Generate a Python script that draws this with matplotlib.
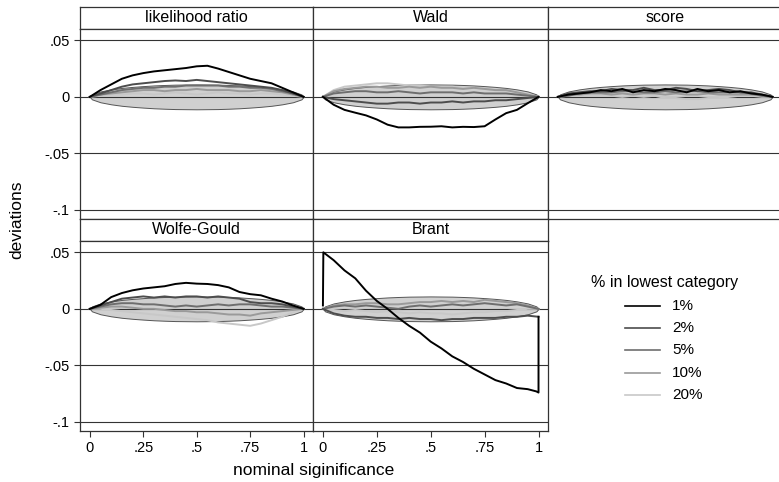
import matplotlib
matplotlib.use("Agg")
import matplotlib.pyplot as plt
from matplotlib.lines import Line2D

plt.rcParams["font.family"] = ["Liberation Sans", "DejaVu Sans"]

# nominal significance grid used for the simulated deviation curves
P = [0, .05, .1, .15, .2, .25, .3, .35, .4, .45, .5,
     .55, .6, .65, .7, .75, .8, .85, .9, .95, 1]

# half width of the grey band around zero
BAND_P = [0, .01, .05, .1, .15, .2, .25, .3, .35, .4, .45, .5,
          .55, .6, .65, .7, .75, .8, .85, .9, .95, .99, 1]
BAND_HW = [0, .0022, .0048, .0066, .0079, .0088, .0095, .0101, .0105, .0108, .0109, .011,
           .0109, .0108, .0105, .0101, .0095, .0088, .0079, .0066, .0048, .0022, 0]

LEVELS = ["1%", "2%", "5%", "10%", "20%"]
COLORS = ["#000000", "#4d4d4d", "#6e6e6e", "#9a9a9a", "#c8c8c8"]

LR = [
    [0, .006, .011, .016, .019, .021, .0225, .0235, .0245, .0255, .027, .0275, .025, .022, .019, .016, .014, .012, .008, .004, 0],
    [0, .003, .006, .009, .011, .012, .013, .014, .0145, .014, .015, .014, .013, .012, .011, .010, .009, .008, .006, .003, 0],
    [0, .002, .004, .006, .007, .008, .008, .009, .009, .010, .010, .010, .010, .009, .009, .008, .008, .007, .005, .003, 0],
    [0, .002, .003, .004, .005, .006, .006, .005, .006, .006, .007, .006, .006, .006, .005, .005, .006, .005, .004, .002, 0],
    [0, .001, .002, .002, .003, .003, .002, .003, .004, .003, .002, .003, .004, .003, .003, .002, .003, .003, .002, .001, 0],
]
WALD = [
    [0, -.007, -.0115, -.014, -.0164, -.020, -.0246, -.027, -.027, -.0265, -.0264, -.026, -.027, -.0265, -.0267, -.026, -.020, -.0144, -.0115, -.0056, 0],
    [0, -.002, -.003, -.004, -.005, -.006, -.006, -.005, -.005, -.006, -.005, -.005, -.004, -.005, -.004, -.004, -.003, -.003, -.002, -.001, 0],
    [0, .003, .004, .005, .005, .004, .004, .005, .004, .003, .004, .004, .004, .003, .004, .003, .003, .003, .002, .001, 0],
    [0, .005, .007, .008, .009, .009, .008, .008, .009, .008, .009, .008, .008, .007, .008, .007, .006, .006, .004, .002, 0],
    [0, .006, .009, .010, .011, .012, .012, .011, .010, .010, .009, .009, .009, .008, .008, .007, .006, .005, .004, .002, 0],
]
SCORE = [
    [0, .002, .003, .004, .006, .005, .007, .004, .006, .005, .007, .006, .004, .007, .005, .006, .004, .005, .003, .002, 0],
    [0, .003, .004, .005, .005, .007, .006, .006, .008, .006, .006, .008, .007, .005, .006, .007, .006, .004, .004, .002, 0],
    [0, .001, .003, .004, .004, .004, .005, .005, .004, .004, .005, .004, .005, .005, .004, .004, .004, .004, .003, .001, 0],
    [0, .002, .002, .003, .003, .002, .003, .002, .003, .003, .002, .003, .002, .002, .003, .002, .002, .002, .002, .001, 0],
    [0, .001, .001, .001, .001, .001, 0, .001, 0, .001, -.001, -.001, -.002, -.002, -.001, -.001, 0, .001, .001, 0, 0],
]
WOLFE = [
    [0, .0036, .0104, .014, .0164, .018, .019, .020, .022, .023, .0223, .022, .021, .019, .0149, .013, .012, .009, .0065, .003, 0],
    [0, .003, .006, .009, .010, .011, .010, .011, .010, .011, .011, .010, .011, .010, .009, .006, .005, .005, .004, .002, 0],
    [0, .002, .004, .005, .005, .004, .004, .003, .002, .003, .002, .003, .004, .003, .004, .004, .003, .002, .002, .001, 0],
    [0, .001, .002, .002, .001, 0, 0, -.001, -.002, -.002, -.003, -.003, -.004, -.005, -.005, -.006, -.004, -.003, -.002, -.001, 0],
    [0, 0, -.001, -.002, -.003, -.004, -.005, -.006, -.007, -.008, -.009, -.010, -.012, -.013, -.014, -.015, -.013, -.010, -.007, -.003, 0],
]
# Brant 1% has its own grid: it jumps at both ends
BRANT_1_P = [0, .002, .05, .1, .15, .2, .25, .3, .35, .4, .45, .5, .55, .6, .65, .7, .75, .8, .85, .9, .95, .99, 1, 1]
BRANT_1 = [.003, .05, .043, .034, .027, .016, .007, 0, -.008, -.015, -.021, -.029, -.035, -.042, -.047, -.053, -.058, -.063, -.066, -.070, -.071, -.073, -.074, -.007]
BRANT = [
    [.003],  # placeholder, replaced by BRANT_1 below
    [0, -.004, -.006, -.007, -.007, -.008, -.008, -.009, -.008, -.009, -.009, -.010, -.009, -.009, -.008, -.008, -.008, -.007, -.007, -.006, -.007],
    [0, .002, .003, .002, .003, .002, .001, 0, .002, .003, .002, .003, .004, .003, .004, .005, .004, .003, .004, .002, 0],
    [0, .003, .004, .004, .005, .005, .004, .004, .005, .006, .006, .007, .006, .007, .006, .008, .007, .006, .005, .003, 0],
    [0, -.001, -.002, -.001, -.002, -.003, -.002, -.003, -.004, -.003, -.004, -.004, -.005, -.004, -.003, -.003, -.002, -.002, -.001, 0, 0],
]

PANELS = [
    ("likelihood ratio", LR, 0, 0),
    ("Wald", WALD, 0, 1),
    ("score", SCORE, 0, 2),
    ("Wolfe-Gould", WOLFE, 1, 0),
    ("Brant", BRANT, 1, 1),
]

Y_TICKS = [.05, 0, -.05, -.1]
Y_LABELS = [".05", "0", "-.05", "-.1"]
X_TICKS = [0, .25, .5, .75, 1]
X_LABELS = ["0", ".25", ".5", ".75", "1"]

W, H = 779, 482
fig = plt.figure(figsize=(W / 100, H / 100), dpi=100)
fig.patch.set_facecolor("white")


def box(x0, y0, x1, y1):
    return [x0 / W, 1 - y1 / H, (x1 - x0) / W, (y1 - y0) / H]


COLS = [(80, 313), (313, 548), (548, 782)]
STRIPS = [(7, 29), (219, 241)]
PLOTS = [(29, 219), (241, 431)]
FRAME = "#333333"

for title, series, r, c in PANELS:
    x0, x1 = COLS[c]
    s0, s1 = STRIPS[r]
    p0, p1 = PLOTS[r]

    sax = fig.add_axes(box(x0, s0, x1, s1))
    sax.set_xticks([])
    sax.set_yticks([])
    for sp in sax.spines.values():
        sp.set_color(FRAME)
        sp.set_linewidth(0.9)
    sax.text(0.5, 0.5, title, ha="center", va="center", fontsize=11.5, transform=sax.transAxes)

    ax = fig.add_axes(box(x0, p0, x1, p1))
    ax.set_xlim(-0.046, 1.044)
    ax.set_ylim(-0.108, 0.06)
    for sp in ax.spines.values():
        sp.set_color(FRAME)
        sp.set_linewidth(0.9)

    ax.fill_between(BAND_P, [-h for h in BAND_HW], BAND_HW, facecolor="#d0d0d0",
                    edgecolor="#555555", linewidth=0.7, zorder=1)
    for yt in Y_TICKS:
        ax.axhline(yt, color=FRAME, linewidth=0.8, zorder=2)

    for i in range(len(LEVELS) - 1, -1, -1):
        if title == "Brant" and i == 0:
            xs, ys = BRANT_1_P, BRANT_1
        else:
            xs, ys = P, series[i]
        ax.plot(xs, ys, color=COLORS[i], linewidth=1.4, zorder=3 + (len(LEVELS) - i))

    ax.set_yticks(Y_TICKS)
    ax.set_xticks(X_TICKS)
    ax.tick_params(direction="out", length=4, width=0.8, color=FRAME, labelsize=10.5)
    if c == 0:
        ax.set_yticklabels(Y_LABELS)
    else:
        ax.tick_params(axis="y", left=False, labelleft=False)
    if r == 1:
        ax.set_xticklabels(X_LABELS)
    else:
        ax.tick_params(axis="x", bottom=False, labelbottom=False)

fig.text(17 / W, 1 - 220 / H, "deviations", rotation=90, ha="center", va="center", fontsize=12.5)
fig.text(314 / W, 1 - 470 / H, "nominal siginificance", ha="center", va="center", fontsize=12.5)

# legend drawn in the empty sixth cell
fig.text(665 / W, 1 - 283 / H, "% in lowest category", ha="center", va="center", fontsize=11.5)
for i, (lab, col) in enumerate(zip(LEVELS, COLORS)):
    yy = 1 - (306 + 22.2 * i) / H
    fig.add_artist(Line2D([625 / W, 660 / W], [yy, yy], color=col, linewidth=1.2,
                          transform=fig.transFigure))
    fig.text(672 / W, yy, lab, ha="left", va="center", fontsize=11)

fig.savefig("out.png", dpi=100)
